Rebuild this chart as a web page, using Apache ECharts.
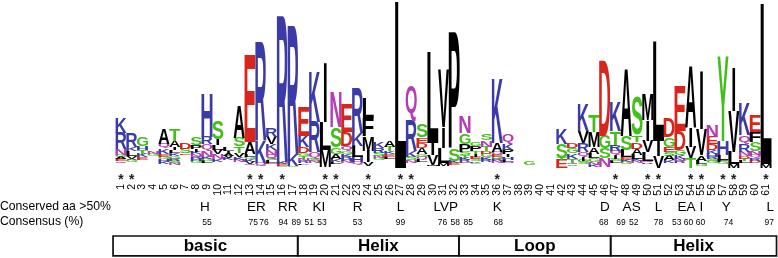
<!DOCTYPE html>
<html>
<head>
<meta charset="utf-8">
<style>html,body{margin:0;padding:0;background:#fff}#c{width:778px;height:258px}</style>
<script src="https://cdn.jsdelivr.net/npm/echarts@6/dist/echarts.min.js"></script>
</head>
<body>
<div id="c"></div>
<script>
// Sequence logo, one entry per position 1..61. Letters and heights read top to bottom.
const logoLetters = [
 "KRNGAEQ","RKLVAG","GHTKE","NG","AQKEGHK","TAILKGRSN","DSE","SPIKNRHG","HRQNKGL","SILVNK",
 "LIAVK","ASTVKN","EALGKVQ","RKQG","RVKNQSLE","RKEG","RKG","EKDGTNRL","KRQSN","ILM",
 "NSGAKL","EDQGKRHN","RKLHQ","LFMIV","KRSNG","ATKEL","L","QRKSN","SEDAGQL","LIVM",
 "VILM","PSKE","NGPSTKRE","GPTIESKG","SNTDGKR","KAQEGRN","QKPIHLN","","G","",
 "","KSTE","DGKTQS","KVRQIGS","TMALGNK","DGSN","KTRQISL","ASLEKG","STDALKN","MIVLQR",
 "LIV","DGESAK","EDGKNR","AIVT","IVALG","NEDKHRSG","YHLFG","IVLM","KQRNDTL","EFSNQRD",
 "LM"
];
const logoHeights = [
 [16,16,6,2.5,2,2,2],[14.5,3.5,5,3,1.5,2],[8.5,3.5,3.5,3.5,3],[2,2],[15,5,5.5,2.5,3,2,2],
 [11,6,3,3,3,3,2,2,2],[6.5,4.5,1.5],[7.5,4,2.5,2.5,3,2,2,2],[43.5,7.5,6.5,6,2.5,2,2],[18,6,4.5,4.5,5,3],
 [4,3,2,2,2],[32,8.5,7,4,3,2],[86.5,12,3,3,2,2,1.5],[98,22.5,2.5,1],[8.5,7,6,4.5,4,2,2,1.5],
 [146,2.5,2,1],[130,11,1.5],[29.5,11,6.5,3,3,2,2,1.5],[50,30,7,2.5,2],[60,28,17],
 [35.5,20,7,5,3,2],[27.5,14.5,5.5,3,2.5,2,2,2],[45,13,11,5.5,2.5],[20,18,14.5,11,4],[6.5,4.5,3.5,2,2],
 [7,4.5,2.5,3,2.5],[167],[35,30,6,3.5,2.5],[13,5,5.5,6,3,3,2],[91.5,12,10.5,1],
 [58,20.5,15,3],[117,11.5,2,2.5],[16.5,11,7.5,3.5,2.5,2,2,1.5],[4,4.5,3,3,2,2,1.5,1.5],[6.5,6,4.5,3,3.5,2.5,2],
 [65,8.5,3,2,2.5,2,2],[10.5,6,4.5,2,3,2,1.5],[],[3.3],[],
 [],[15.5,14,2,8.2],[4.5,5.5,5.5,3.5,2,1.5],[27,12,9,5,3.5,2,2],[16.5,15,7,4.5,4,2.5,2],
 [76,12.5,10,8.5],[30,13.5,6.5,4,4,2,2],[68,14,7,3,2,2],[38,7,6.5,6,4.5,2,2],[25.5,21,11,9,1.5,1.5],
 [100,15.5,11.5],[19,9.5,5,4,4.5,3],[45,19,5,4,2,2],[62,19,11.5,10],[59,26,5.5,3.5,2],
 [11.5,7,6,4,3.5,2,2,2],[84,14,5,2,2],[44.5,40.5,12.5,4],[32,9,8,4.5,3,2,2],[16,10.5,8.5,4,3,3,2],
 [160,4]
];
const logoFloors = [
 5,6,8,12,4.5,3,13,5,5,6,8,6,3,1.7,4,1,0.5,3.5,4.8,0.7,
 4,5,3.5,2.2,8,9,0,5,6,2,2.5,2.7,4.8,4,6,5,5,0,2.7,0,
 0,0,2,3.5,1.5,1,5,3.7,5,4,0.3,4.7,5,0,2,5,4,0,5,5,0
];
const starPositions = [1,2,13,14,16,20,21,24,27,28,36,47,50,51,54,55,57,58,61];
const conservedLabels = ["H","ER","RR","KI","R","L","LVP","K","D","AS","L","EA","I","Y","L"];
const conservedPositions = [8.8,13.6,16.5,19.4,23,27,31.2,36,46,48.5,51,53.6,55,57.3,61.4];
const consensusValues = [55,75,76,94,89,51,53,53,99,76,58,85,68,68,69,52,78,53,60,60,74,97];
const consensusPositions = [9,13.3,14.3,16.1,17.3,18.5,19.7,23,27,30.9,32.1,33.3,36.1,45.9,47.5,48.7,51,52.7,53.8,54.9,57.5,61.3];
const regionNames = ["basic","Helix","Loop","Helix"];
const regionEdges = [0.26,17.44,32.44,46.55,61.98];
const rowConserved = -39, rowConsensus = -54.5, rowStars = -9, bandTop = -68, bandBottom = -87.8;

const colours = {K:'#3b3ba8',R:'#3b3ba8',H:'#3b3ba8',D:'#d9261c',E:'#d9261c',N:'#b53cb5',Q:'#b53cb5',
  S:'#43bf1c',T:'#43bf1c',G:'#43bf1c',Y:'#43bf1c',C:'#43bf1c'};
const glyphFont = 'bold 100px "Liberation Sans"';
const mctx = document.createElement('canvas').getContext('2d');
mctx.font = glyphFont; mctx.textBaseline = 'middle'; mctx.textAlign = 'left';
const metrics = {};
function glyph(ch){
  if(!metrics[ch]){
    const m = mctx.measureText(ch);
    metrics[ch] = {l:m.actualBoundingBoxLeft,r:m.actualBoundingBoxRight,a:m.actualBoundingBoxAscent,d:m.actualBoundingBoxDescent};
  }
  return metrics[ch];
}
function fitted(ch,left,top,w,h,fill){
  const m = glyph(ch), sx = w/(m.l+m.r), sy = h/(m.a+m.d);
  return {type:'text',silent:true,x:left+m.l*sx,y:top+m.a*sy,scaleX:sx,scaleY:sy,
    style:{text:ch,x:0,y:0,fill:fill,font:glyphFont,align:'left',verticalAlign:'middle'}};
}

const logoData = [];
logoLetters.forEach((s,i)=>{
  let base = logoFloors[i];
  for(let k=s.length-1;k>=0;k--){
    logoData.push([i+1,base,logoHeights[i][k],s[k]]);
    base += logoHeights[i][k];
  }
});
function textSeries(rows,font,fill){
  return {type:'custom',data:rows,silent:true,encode:{x:0,y:1},renderItem:(p,api)=>{
    const c = api.coord([api.value(0),api.value(1)]);
    return {type:'text',silent:true,style:{text:rows[p.dataIndex][2],x:c[0],y:c[1],fill:fill,font:font,align:'center',verticalAlign:'middle'}};
  }};
}
const chart = echarts.init(document.getElementById('c'),null,{renderer:'canvas'});
chart.setOption({
  animation:false,
  backgroundColor:'#fff',
  grid:{left:110.25,right:1.25,top:0,bottom:90},
  xAxis:{type:'value',min:0,max:62,interval:1,splitLine:{show:false},axisLine:{show:false},axisTick:{show:false},
    axisLabel:{rotate:90,margin:16,fontSize:10.5,color:'#000',fontFamily:'"Liberation Sans"',hideOverlap:false,
      formatter:v=>(v>=1&&v<=61)?String(v):''}},
  yAxis:{type:'value',min:0,max:168,show:false},
  graphic:[
    {type:'text',left:0,top:201,silent:true,style:{text:'Conserved aa >50%',font:'12.2px "Liberation Sans"',fill:'#000'}},
    {type:'text',left:0,top:216,silent:true,style:{text:'Consensus (%)',font:'12.2px "Liberation Sans"',fill:'#000'}}
  ],
  series:[
    {type:'custom',data:logoData,silent:true,encode:{x:0,y:1},clip:false,renderItem:(p,api)=>{
      const row = logoData[p.dataIndex];
      const c0 = api.coord([row[0],row[1]]), c1 = api.coord([row[0],row[1]+row[2]]);
      const w = api.size([1,0])[0]*(row[3]==='I'?0.27:1.04);
      return fitted(row[3],c0[0]-w/2,c1[1],w,c0[1]-c1[1],colours[row[3]]||'#000');
    }},
    {type:'custom',data:starPositions.map(p=>[p,rowStars]),silent:true,encode:{x:0,y:1},renderItem:(p,api)=>{
      const c = api.coord([api.value(0),api.value(1)]);
      return fitted('*',c[0]-2.7,c[1]-2.7,5.4,5.4,'#222');
    }},
    textSeries(conservedLabels.map((t,i)=>[conservedPositions[i],rowConserved,t]),'13.5px "Liberation Sans"','#000'),
    textSeries(consensusValues.map((t,i)=>[consensusPositions[i],rowConsensus,String(t)]),'8.5px "Liberation Sans"','#000'),
    {type:'custom',data:regionNames.map((n,i)=>[regionEdges[i],regionEdges[i+1],n]),silent:true,encode:{x:[0,1]},renderItem:(p,api)=>{
      const a = api.coord([api.value(0),bandTop]), b = api.coord([api.value(1),bandBottom]);
      return {type:'group',children:[
        {type:'rect',silent:true,shape:{x:a[0],y:a[1],width:b[0]-a[0],height:b[1]-a[1]},style:{fill:'none',stroke:'#111',lineWidth:1.7}},
        {type:'text',silent:true,style:{text:regionNames[p.dataIndex],x:(a[0]+b[0])/2,y:(a[1]+b[1])/2+0.5,font:'bold 17px "Liberation Sans"',fill:'#000',align:'center',verticalAlign:'middle'}}
      ]};
    }}
  ]
});
</script>
</body>
</html>
